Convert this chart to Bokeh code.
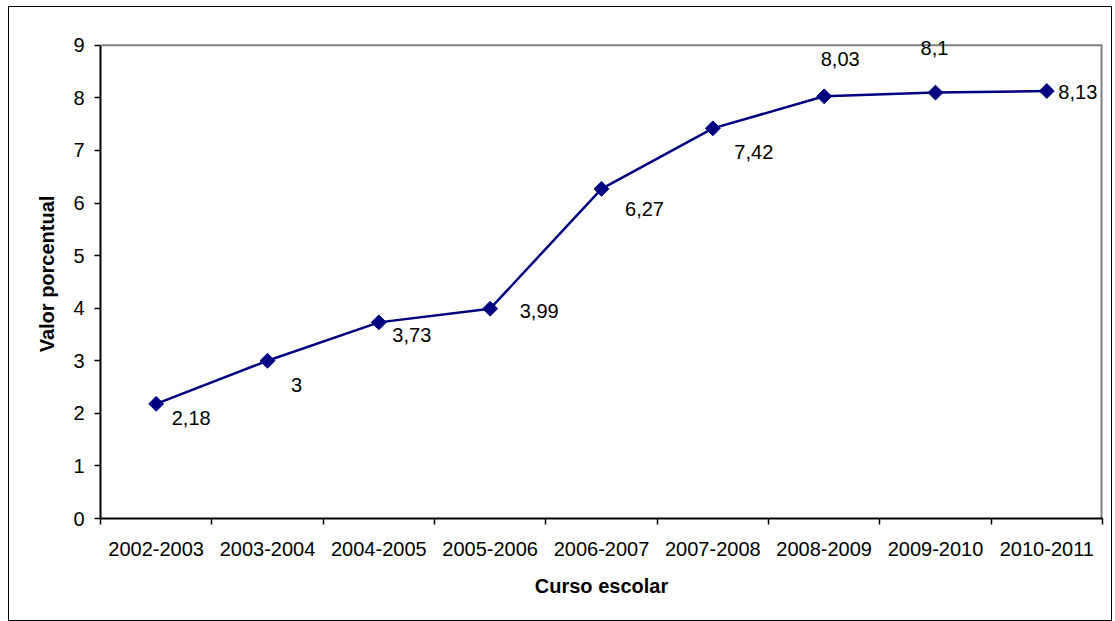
import math
from bokeh.plotting import figure
from bokeh.models import Range1d, FixedTicker, CustomJSTickFormatter, ColumnDataSource, Label, Span
from bokeh.embed import file_html
from bokeh.resources import INLINE

cursos = ["2002-2003", "2003-2004", "2004-2005", "2005-2006", "2006-2007",
          "2007-2008", "2008-2009", "2009-2010", "2010-2011"]
valores = [2.18, 3, 3.73, 3.99, 6.27, 7.42, 8.03, 8.1, 8.13]
y_ticks = [0, 1, 2, 3, 4, 5, 6, 7, 8, 9]

# label placement offsets (screen px, right / down) relative to each point
label_dx = [35, 29, 33, 49, 43, 41, 16, -1, 31]
label_dy = [14, 24, 13, 2, 20, 24, -37, -45, 1]

FONT = "Liberation Sans"
NAVY = "#000080"
GRAY = "#808080"
FS = "20px"

n = len(cursos)
ymax = y_ticks[-1]
xs = [i + 0.5 for i in range(n)]
labels = [f"{v:g}".replace(".", ",") for v in valores]

src = ColumnDataSource(dict(x=xs, y=valores))

# a little head-room above the axis maximum so data labels are not clipped
p = figure(width=1104, height=615, output_backend="svg", toolbar_location=None,
           x_range=Range1d(0, n), y_range=Range1d(0, ymax + 0.3))
p.min_border_left = 91
p.min_border_right = 11
p.min_border_top = 22
p.min_border_bottom = 104
p.styles = {"border": "1px solid black", "box-sizing": "border-box",
            "margin-left": "8px", "margin-top": "6px"}
p.background_fill_color = "white"
p.border_fill_color = "white"
p.outline_line_color = None
p.xgrid.visible = False
p.ygrid.visible = False

# plot-area border (top and right, grey)
p.add_layout(Span(location=ymax, dimension="width", line_color=GRAY, line_width=2))
p.segment(x0=[n], y0=[0], x1=[n], y1=[ymax], line_color=GRAY, line_width=4)

p.line("x", "y", source=src, line_color=NAVY, line_width=2.5)
p.scatter("x", "y", source=src, marker="square", angle=math.pi / 4, size=10.5,
          fill_color=NAVY, line_color=NAVY)

for x, y, lab, dx, dy in zip(xs, valores, labels, label_dx, label_dy):
    p.add_layout(Label(x=x, y=y, text=lab, x_offset=dx, y_offset=-dy,
                       text_align="center", text_baseline="middle",
                       text_font=FONT, text_font_size=FS, text_color="black"))

xa = p.xaxis[0]
xa.ticker = FixedTicker(ticks=xs, minor_ticks=list(range(n + 1)))
xa.formatter = CustomJSTickFormatter(args=dict(labels=cursos),
                                     code="return labels[Math.floor(tick)];")
xa.major_tick_out = 0
xa.major_tick_in = 0
xa.minor_tick_out = 6
xa.minor_tick_in = 0
xa.minor_tick_line_color = "black"
xa.minor_tick_line_width = 1.5
xa.major_label_standoff = 17
xa.axis_label = "Curso escolar"
xa.axis_label_standoff = 16

ya = p.yaxis[0]
ya.ticker = FixedTicker(ticks=y_ticks, minor_ticks=[])
ya.bounds = (0, ymax)
ya.major_tick_out = 6
ya.major_tick_in = 0
ya.major_tick_line_width = 1.5
ya.major_label_standoff = 10
ya.axis_label = "Valor porcentual"
ya.axis_label_standoff = 12

for ax in (xa, ya):
    ax.axis_line_color = "black"
    ax.axis_line_width = 2
    ax.major_tick_line_color = "black"
    ax.major_label_text_font = FONT
    ax.major_label_text_font_size = FS
    ax.major_label_text_color = "black"
    ax.axis_label_text_font = FONT
    ax.axis_label_text_font_size = FS
    ax.axis_label_text_font_style = "bold"
    ax.axis_label_text_color = "black"

open("out.html", "w").write(file_html(p, INLINE))
